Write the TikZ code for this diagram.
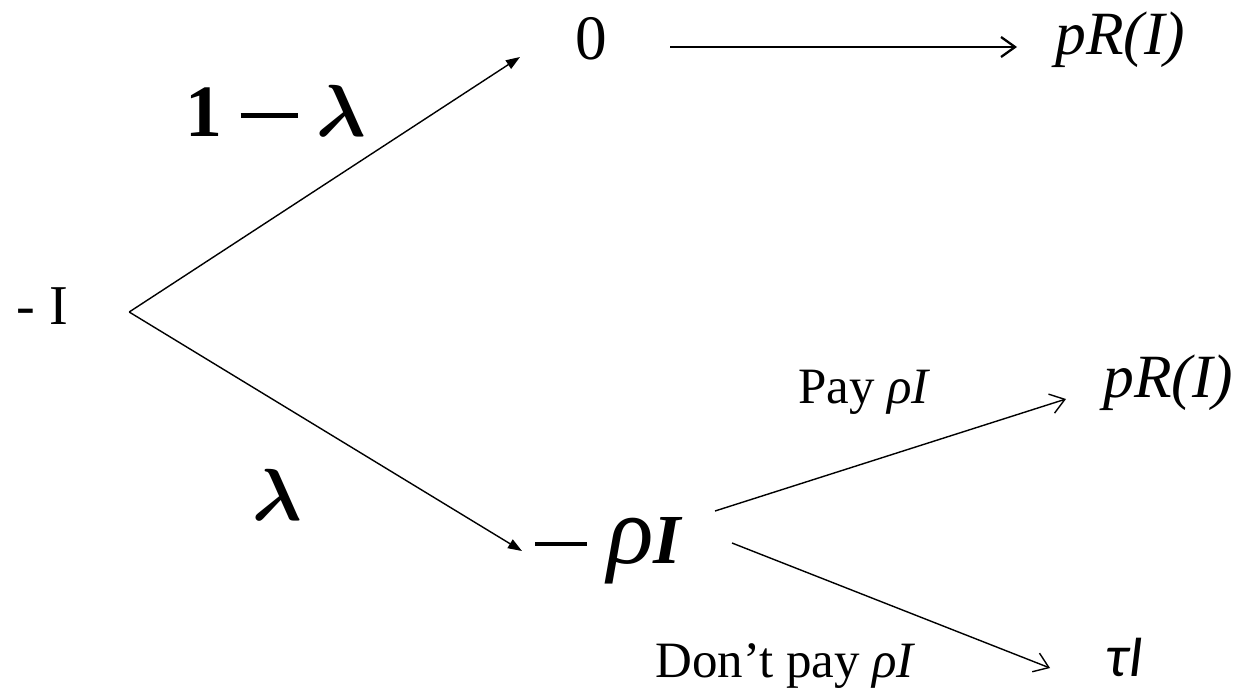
\documentclass[tikz,border=0pt]{standalone}
\usepackage{fix-cm}
\usepackage{fontspec}
\setmainfont{Liberation Serif}
\newfontfamily\calibrifont{Carlito}
\usetikzlibrary{arrows.meta,calc}
\newcommand\lngminus{\rule[0.25em]{0.78em}{0.065em}}
\newcommand\fsz[1]{\fontsize{#1}{#1}\selectfont}

\begin{document}
\begin{tikzpicture}[x=0.02cm,y=-0.02cm,
    txt/.style={inner sep=0pt,anchor=base west},
    branch/.style={line width=0.8pt,-{Triangle[length=0.28cm,width=0.2cm]}},
    choice/.style={line width=0.8pt,-{Straight Barb[length=0.28cm,width=0.4cm]}}]
  \useasboundingbox (0,0) rectangle (1247,694);
  % tree nodes
  \node[txt,font=\fsz{32}] (root) at (16,324) {- I};
  \coordinate (fork) at ($(root.base east)+(61,-12)$);
  \node[txt,font=\fsz{36}] (zero) at (575,59) {0};
  \node[txt,font=\fsz{35}] (topR) at (1055,54) {\itshape pR(I)};
  \node[txt,font=\fsz{38}] (debt) at (535,563)
    {\lngminus\hspace{0.3em}{\itshape\fsz{55}ρ\fsz{40}\bfseries I}};
  \node[txt,font=\fsz{35}] (payR) at (1103,397) {\itshape pR(I)};
  \node[txt,font=\fsz{34}] (tau) at (1105,676) {\calibrifont\itshape τI};
  % probabilities and choices
  \node[txt,font=\fsz{42}\boldmath] (oneminus) at (185,136)
    {\textbf{1}\hspace{0.25em}\lngminus\hspace{0.25em}$\lambda$};
  \node[txt,font=\fsz{42}\boldmath] (lam) at (252,520) {$\lambda$};
  \node[txt,font=\fsz{29}] (pay) at (798,403) {Pay {\itshape ρI}};
  \node[txt,font=\fsz{29}] (nopay) at (655,677) {Don’t pay {\itshape ρI}};
  % branches
  \draw[branch] (fork) -- ($(zero.base west)+(-55,-2)$);
  \draw[branch] (fork) -- ($(debt.base west)+(-13,-12)$);
  \draw[choice,line width=1.3pt] ($(zero.base east)+(63,-12)$) -- ($(topR.base west)+(-38,-7)$);
  \draw[choice] ($(debt.base west)+(180,-52)$) -- ($(payR.base west)+(-37,2)$);
  \draw[choice] ($(debt.base west)+(197,-20)$) -- ($(tau.base west)+(-55,-8)$);
\end{tikzpicture}
\end{document}
